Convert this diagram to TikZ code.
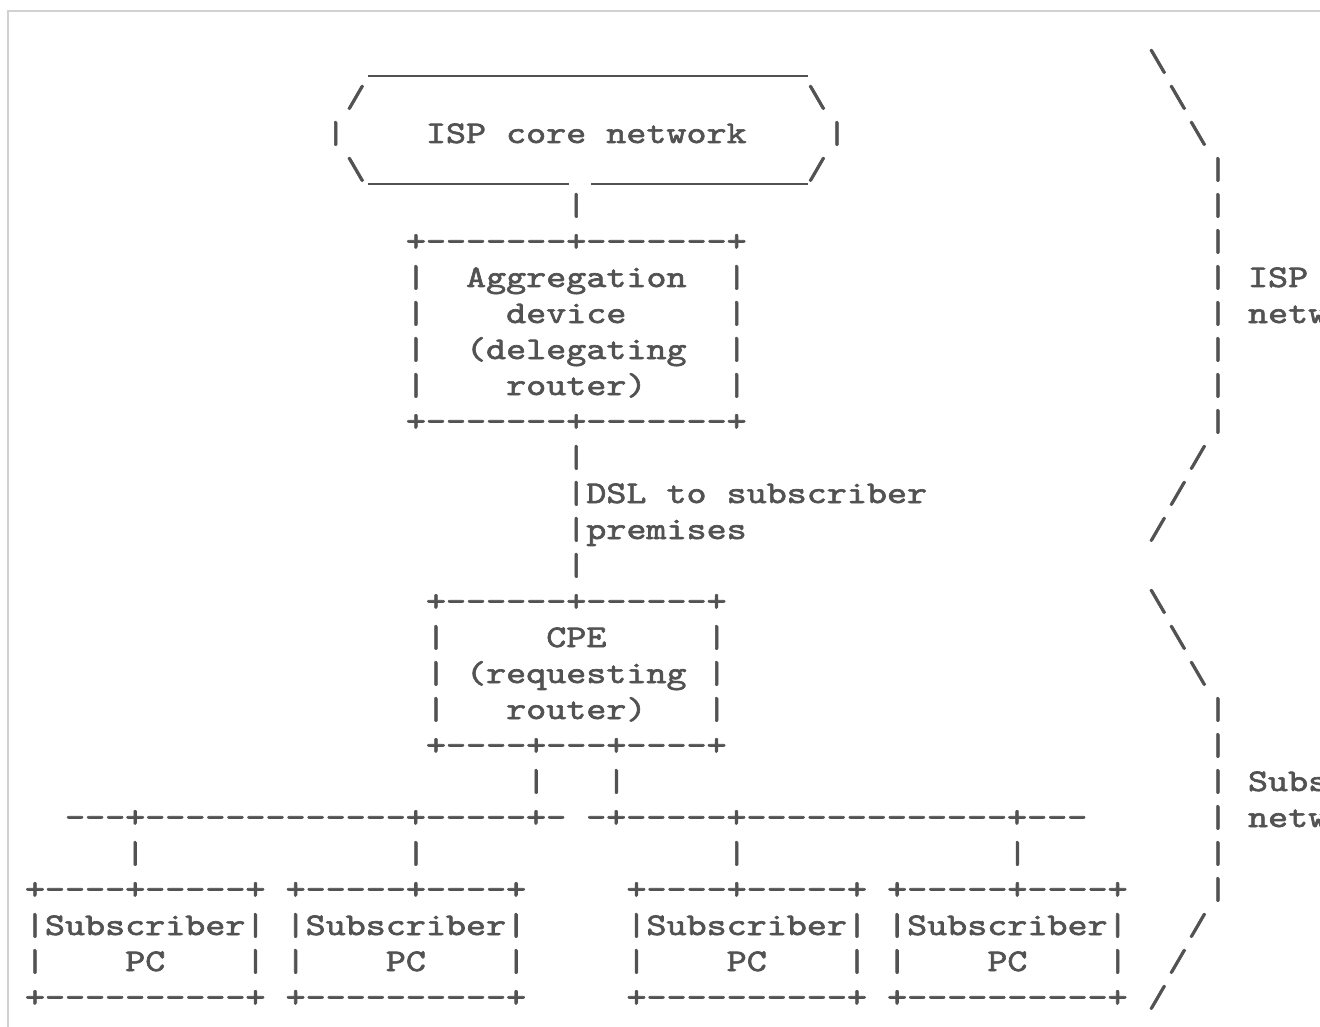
\documentclass[tikz,border=0pt]{standalone}
\usepackage{fontspec}
\newfontfamily\asciifont{lmmono10-regular.otf}[Ligatures=TeXOff, FakeStretch=1.212, RawFeature={embolden=2}]
\newcommand\bs{\textbackslash}
\tikzset{
  asc/.style={anchor=base west, inner sep=0pt, outer sep=0pt, text=black!68,
    font=\asciifont\fontsize{31.5}{36}\selectfont},
  uline/.style={draw=black!68, line width=2.4pt},
  frameline/.style={draw=black!18, line width=1.6pt}
}
% #1 = row, #2 = column, #3 = text
\newcommand\asc[3]{\node[asc] (r#1c#2) at ({24.97+20.05*#2},{71+36*#1}) {#3};}
\begin{document}
\begin{tikzpicture}[x=1pt,y=-1pt]
\useasboundingbox (0,0) rectangle (1320,1027);
\clip (0,0) rectangle (1320,1027);
\fill[white] (0,0) rectangle (1320,1027);
\coordinate (fb) at (8,1030);
\coordinate (fc) at (8,11);
\coordinate (fr) at (1325,11);
\draw[frameline] (fb) -- (fc) -- (fr);
% underscore runs of the hexagon (rows 0 and 3)
\coordinate (u0a) at (368,76);
\coordinate (u0b) at (808,76);
\coordinate (u3a) at (368,184);
\coordinate (u3b) at (569,184);
\coordinate (u3c) at (591,184);
\coordinate (u3d) at (808,184);
\draw[uline] (u0a) -- (u0b);
\draw[uline] (u3a) -- (u3b);
\draw[uline] (u3c) -- (u3d);
% row 0
\asc{0}{56}{\bs}
% row 1
\asc{1}{16}{/}
\asc{1}{39}{\bs}
\asc{1}{57}{\bs}
% row 2
\asc{2}{15}{|}
\asc{2}{20}{ISP core network}
\asc{2}{40}{|}
\asc{2}{58}{\bs}
% row 3
\asc{3}{16}{\bs}
\asc{3}{39}{/}
\asc{3}{59}{|}
% row 4
\asc{4}{27}{|}
\asc{4}{59}{|}
% row 5
\asc{5}{19}{+-------+-------+}
\asc{5}{59}{|}
% rows 6-9
\asc{6}{19}{|}\asc{6}{22}{Aggregation}\asc{6}{35}{|}\asc{6}{59}{|}\asc{6}{61}{ISP}
\asc{7}{19}{|}\asc{7}{24}{device}\asc{7}{35}{|}\asc{7}{59}{|}\asc{7}{61}{network}
\asc{8}{19}{|}\asc{8}{22}{(delegating}\asc{8}{35}{|}\asc{8}{59}{|}
\asc{9}{19}{|}\asc{9}{24}{router)}\asc{9}{35}{|}\asc{9}{59}{|}
% row 10
\asc{10}{19}{+-------+-------+}
\asc{10}{59}{|}
% rows 11-14
\asc{11}{27}{|}\asc{11}{58}{/}
\asc{12}{27}{|DSL to subscriber}\asc{12}{57}{/}
\asc{13}{27}{|premises}\asc{13}{56}{/}
\asc{14}{27}{|}
% rows 15-19
\asc{15}{20}{+------+------+}\asc{15}{56}{\bs}
\asc{16}{20}{|}\asc{16}{26}{CPE}\asc{16}{34}{|}\asc{16}{57}{\bs}
\asc{17}{20}{|}\asc{17}{22}{(requesting}\asc{17}{34}{|}\asc{17}{58}{\bs}
\asc{18}{20}{|}\asc{18}{24}{router)}\asc{18}{34}{|}\asc{18}{59}{|}
\asc{19}{20}{+----+---+----+}\asc{19}{59}{|}
% row 20
\asc{20}{25}{|}\asc{20}{29}{|}\asc{20}{59}{|}\asc{20}{61}{Subscriber}
% row 21
\asc{21}{2}{---+-------------+-----+- -+-----+-------------+---}
\asc{21}{59}{|}\asc{21}{61}{network}
% row 22
\asc{22}{5}{|}\asc{22}{19}{|}\asc{22}{35}{|}\asc{22}{49}{|}\asc{22}{59}{|}
% row 23
\asc{23}{0}{+----+-----+}\asc{23}{13}{+-----+----+}\asc{23}{30}{+----+-----+}\asc{23}{43}{+-----+----+}\asc{23}{59}{|}
% row 24
\asc{24}{0}{|Subscriber|}\asc{24}{13}{|Subscriber|}\asc{24}{30}{|Subscriber|}\asc{24}{43}{|Subscriber|}\asc{24}{58}{/}
% row 25
\asc{25}{0}{|}\asc{25}{5}{PC}\asc{25}{11}{|}
\asc{25}{13}{|}\asc{25}{18}{PC}\asc{25}{24}{|}
\asc{25}{30}{|}\asc{25}{35}{PC}\asc{25}{41}{|}
\asc{25}{43}{|}\asc{25}{48}{PC}\asc{25}{54}{|}
\asc{25}{57}{/}
% row 26
\asc{26}{0}{+----------+}\asc{26}{13}{+----------+}\asc{26}{30}{+----------+}\asc{26}{43}{+----------+}\asc{26}{56}{/}
\end{tikzpicture}
\end{document}
